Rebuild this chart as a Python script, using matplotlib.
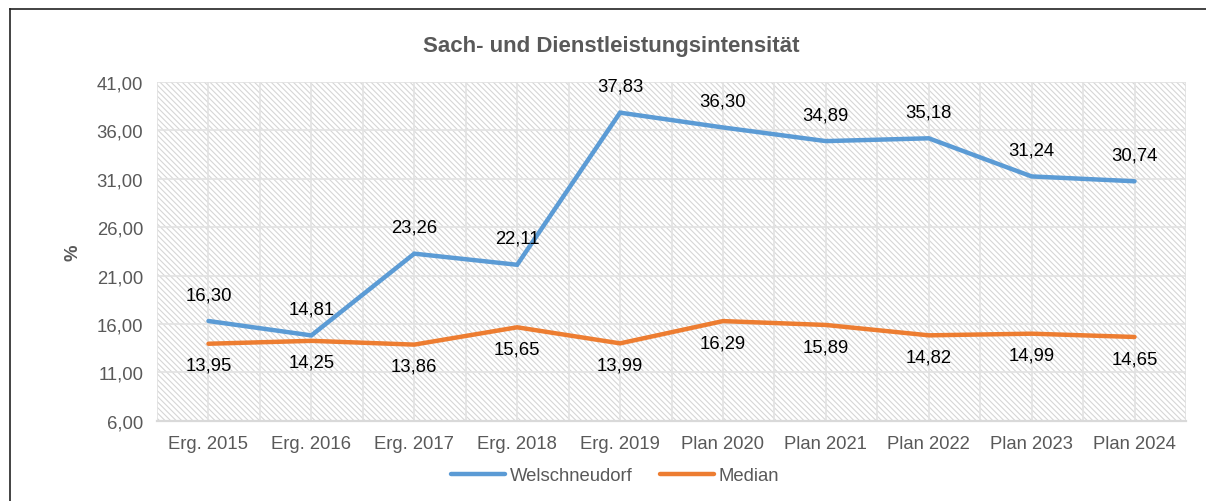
import matplotlib
matplotlib.use("Agg")
import matplotlib.pyplot as plt
from matplotlib.patches import Rectangle
from matplotlib.lines import Line2D
import numpy as np

plt.rcParams['font.family'] = ['Liberation Sans', 'DejaVu Sans']
plt.rcParams['hatch.linewidth'] = 0.8

categories = ['Erg. 2015', 'Erg. 2016', 'Erg. 2017', 'Erg. 2018', 'Erg. 2019',
              'Plan 2020', 'Plan 2021', 'Plan 2022', 'Plan 2023', 'Plan 2024']
welschneudorf = [16.30, 14.81, 23.26, 22.11, 37.83, 36.30, 34.89, 35.18, 31.24, 30.74]
median = [13.95, 14.25, 13.86, 15.65, 13.99, 16.29, 15.89, 14.82, 14.99, 14.65]
y_ticks = [6, 11, 16, 21, 26, 31, 36, 41]

blue = '#5b9bd5'
orange = '#ed7d31'
gray = '#595959'
fs = 13.3

def fmt(v):
    return f'{v:.2f}'.replace('.', ',')

fig = plt.figure(figsize=(12.06, 5.02), dpi=100)
ax = fig.add_axes([0.1302, 0.16, 0.8532, 0.6747])

x = np.arange(len(categories))
ax.set_xlim(-0.5, len(categories) - 0.5)
ax.set_ylim(y_ticks[0], y_ticks[-1])

# hatched plot area
ax.add_patch(Rectangle((0, 0), 1, 1, transform=ax.transAxes, facecolor='white',
                       edgecolor='#d6d6d6', linewidth=0, hatch='\\' * 6, zorder=0))

# grid
for gx in np.arange(-0.5, len(categories), 0.5):
    ax.axvline(gx, color='#e2e2e2', lw=1.2, zorder=1)
for gy in y_ticks[1:]:
    ax.axhline(gy, color='#e2e2e2', lw=1.2, zorder=1)

ax.plot(x, welschneudorf, color=blue, lw=3.2, solid_capstyle='round',
        solid_joinstyle='miter', zorder=3, label='Welschneudorf')
ax.plot(x, median, color=orange, lw=3.2, solid_capstyle='round',
        solid_joinstyle='miter', zorder=3, label='Median')

for xi, v in zip(x, welschneudorf):
    ax.annotate(fmt(v), (xi, v), xytext=(0, 19), textcoords='offset points',
                ha='center', va='center', fontsize=fs, color='black', zorder=4)
for xi, v in zip(x, median):
    ax.annotate(fmt(v), (xi, v), xytext=(0, -15.5), textcoords='offset points',
                ha='center', va='center', fontsize=fs, color='black', zorder=4)

ax.set_xticks(x)
ax.set_xticklabels(categories)
ax.set_yticks(y_ticks)
ax.set_yticklabels([fmt(t) for t in y_ticks])
ax.tick_params(axis='both', length=0, labelsize=fs, labelcolor=gray)
ax.tick_params(axis='y', pad=10)
ax.tick_params(axis='x', pad=10)

for s in ['top', 'right', 'left']:
    ax.spines[s].set_visible(False)
ax.spines['bottom'].set_color('#d9d9d9')
ax.spines['bottom'].set_linewidth(1.6)

ax.set_ylabel('%', fontsize=fs, fontweight='bold', color=gray, labelpad=11)

fig.text(0.507, 0.908, 'Sach- und Dienstleistungsintensität', ha='center', va='center',
         fontsize=16, fontweight='bold', color=gray)

fig.legend(loc='center', bbox_to_anchor=(0.51, 0.05), ncol=2, frameon=False,
           fontsize=fs, handlelength=2.9, handletextpad=0.25, columnspacing=1.5,
           labelcolor=gray)

# outer border (partially cropped in reference)
fig.add_artist(Line2D([10 / 1206, 10 / 1206], [0, 1 - 10 / 502], transform=fig.transFigure,
                      color='#222222', lw=1.2))
fig.add_artist(Line2D([10 / 1206, 1], [1 - 10 / 502, 1 - 10 / 502], transform=fig.transFigure,
                      color='#222222', lw=1.2))

fig.savefig('out.png', dpi=100)
